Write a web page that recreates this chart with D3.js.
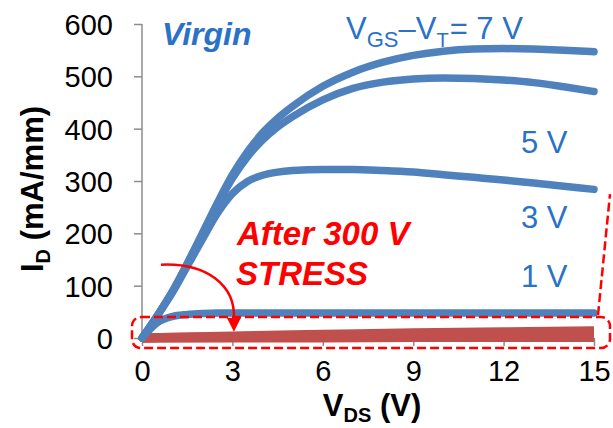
<!DOCTYPE html>
<html>
<head>
<meta charset="utf-8">
<script src="https://cdn.jsdelivr.net/npm/d3@7"></script>
<style>
  html, body { margin: 0; padding: 0; background: #fff; }
  svg { display: block; font-family: Arial, "Liberation Sans", sans-serif; }
</style>
</head>
<body>
<svg id="chart" width="613" height="428"></svg>
<script>
// Drain voltage sweep (V)
const vds = [0, 0.5, 1, 1.5, 2, 2.5, 3, 3.5, 4, 4.5, 5, 6, 7, 8, 9, 10, 11, 12, 13, 14, 15];

// Virgin output characteristics, I_D in mA/mm, one series per V_GS - V_T
const virgin7V = [0, 42, 88, 142, 200, 258, 312, 356, 392, 420, 443, 481, 508, 527, 540, 548, 552, 553, 552, 550, 547];
const virgin5V = [0, 42, 88, 142, 198, 254, 305, 346, 378, 403, 423, 455, 477, 489, 495, 497, 496, 493, 488, 480, 471];
const virgin3V = [0, 42, 86, 137, 188, 238, 276, 299, 311, 317, 320, 322, 322, 320, 317, 312, 307, 302, 296, 290, 284];
const virgin1V = [0, 29, 41, 45, 47, 48, 48, 48, 48, 48, 48, 48, 48, 48, 48, 48, 48, 48, 48, 48, 48];

// After 300 V stress: the currents collapse to a few mA/mm
const stressVds = [0, 3, 6, 9, 12, 15];
const stress7V = [0, 4, 7, 10, 12, 14];
const stress5V = [0, 3, 5, 7, 8, 9];
const stress3V = [0, 1, 2, 3, 4, 5];
const stress1V = [0, 0, 0, 1, 1, 1];

const xTicks = [0, 3, 6, 9, 12, 15];
const yTicks = [0, 100, 200, 300, 400, 500, 600];

const blue = "#4f81bd";
const blueText = "#2a72c8";
const red = "#ff0000";
const darkRed = "#c0504d";
const axisGray = "#8c8c8c";

const svg = d3.select("#chart");

const x = d3.scaleLinear().domain([0, 15]).range([142, 594]);
const y = d3.scaleLinear().domain([0, 600]).range([338, 24]);

// Axes
const yAxis = d3.axisLeft(y).tickValues(yTicks).tickSize(8).tickPadding(21);
const gy = svg.append("g").attr("transform", `translate(${x(0)},0)`).call(yAxis);
gy.select(".domain").attr("stroke", axisGray).attr("stroke-width", 1.5)
  .attr("d", `M0,${y(600)}V${y(0) + 4}`);
gy.selectAll(".tick line").attr("stroke", axisGray).attr("stroke-width", 1.5);
gy.selectAll(".tick text").attr("fill", "#000").style("font-size", "29px")
  .style("font-family", "Arial, 'Liberation Sans', sans-serif").attr("dy", "0.36em");

const xAxis = d3.axisBottom(x).tickValues(xTicks).tickSize(8).tickPadding(14);
const gx = svg.append("g").attr("transform", `translate(0,${y(0)})`).call(xAxis);
gx.select(".domain").attr("stroke", axisGray).attr("stroke-width", 1.5)
  .attr("d", `M${x(0)},0H${x(15)}`);
gx.selectAll(".tick line").attr("stroke", axisGray).attr("stroke-width", 1.5);
gx.selectAll(".tick text").attr("fill", "#000").style("font-size", "29px")
  .style("font-family", "Arial, 'Liberation Sans', sans-serif");

// Axis titles
const yTitle = svg.append("text")
  .attr("transform", `translate(43,${(y(0) + y(600)) / 2 + 8}) rotate(-90)`)
  .attr("text-anchor", "middle")
  .style("font-size", "31px").style("font-weight", "bold").attr("fill", "#000");
yTitle.append("tspan").text("I");
yTitle.append("tspan").attr("dy", 7).style("font-size", "20px").text("D");
yTitle.append("tspan").attr("dy", -7).text(" (mA/mm)");

const xTitle = svg.append("text")
  .attr("x", (x(0) + x(15)) / 2 + 4).attr("y", 416)
  .attr("text-anchor", "middle")
  .style("font-size", "31px").style("font-weight", "bold").attr("fill", "#000");
xTitle.append("tspan").text("V");
xTitle.append("tspan").attr("dy", 6).style("font-size", "20px").text("DS");
xTitle.append("tspan").attr("dy", -6).text(" (V)");

// Stressed curves, drawn as a bundle of thick red lines
const stressLine = d3.line().x((d, i) => x(stressVds[i])).y(d => y(d)).curve(d3.curveMonotoneX);
[stress1V, stress3V, stress5V, stress7V].forEach(s => {
  svg.append("path").datum(s).attr("d", stressLine)
    .attr("fill", "none").attr("stroke", darkRed).attr("stroke-width", 9)
    .attr("stroke-linecap", "butt");
});

// Virgin curves
const virginLine = d3.line().x((d, i) => x(vds[i])).y(d => y(d)).curve(d3.curveMonotoneX);
[virgin1V, virgin3V, virgin5V, virgin7V].forEach(s => {
  svg.append("path").datum(s).attr("d", virginLine)
    .attr("fill", "none").attr("stroke", blue).attr("stroke-width", 7.5)
    .attr("stroke-linecap", "round").attr("stroke-linejoin", "round");
});

// Dashed highlight box around the collapsed currents
svg.append("rect")
  .attr("x", x(0) - 10).attr("y", y(40)).attr("width", x(15) - x(0) + 26).attr("height", 31)
  .attr("rx", 9).attr("ry", 9)
  .attr("fill", "none").attr("stroke", red).attr("stroke-width", 2.5)
  .attr("stroke-dasharray", "9,4");

svg.append("line")
  .attr("x1", x(15) + 4).attr("y1", y(40) - 2)
  .attr("x2", x(15) + 16).attr("y2", y(275))
  .attr("stroke", red).attr("stroke-width", 2.5).attr("stroke-dasharray", "9,4");

// Curved arrow pointing from the virgin curves to the stressed ones
const arrowStart = [x(0.63), y(140)];
const arrowEnd = [x(3.05), y(16)];
svg.append("path")
  .attr("d", `M${arrowStart[0]},${arrowStart[1]} C${arrowStart[0] + 45},${arrowStart[1] - 2} ${arrowEnd[0] + 2},${arrowStart[1] + 20} ${arrowEnd[0]},${arrowEnd[1] - 10}`)
  .attr("fill", "none").attr("stroke", red).attr("stroke-width", 2.5);
svg.append("path")
  .attr("d", `M${arrowEnd[0] - 7},${arrowEnd[1] - 12} L${arrowEnd[0] + 7},${arrowEnd[1] - 12} L${arrowEnd[0]},${arrowEnd[1] + 2} Z`)
  .attr("fill", red);

// Annotations
svg.append("text").attr("x", 162).attr("y", 45)
  .style("font-size", "32px").style("font-weight", "bold").style("font-style", "italic")
  .attr("fill", blueText).text("Virgin");

const gsLabel = svg.append("text").attr("x", 346).attr("y", 39)
  .style("font-size", "31px").attr("fill", blueText);
gsLabel.append("tspan").text("V");
gsLabel.append("tspan").attr("dy", 8).style("font-size", "22px").text("GS");
gsLabel.append("tspan").attr("dy", -8).text("\u2013V");
gsLabel.append("tspan").attr("dy", 8).style("font-size", "20px").text("T");
gsLabel.append("tspan").attr("dy", -8).attr("dx", 1).text("= 7 V");

[["5 V", 153], ["3 V", 228], ["1 V", 287]].forEach(([t, yy]) => {
  svg.append("text").attr("x", 521).attr("y", yy)
    .style("font-size", "31px").attr("fill", blueText).text(t);
});

svg.append("text").attr("x", 237).attr("y", 245)
  .style("font-size", "33px").style("font-weight", "bold").style("font-style", "italic")
  .attr("fill", red).text("After 300 V");
svg.append("text").attr("x", 236).attr("y", 285)
  .style("font-size", "33px").style("font-weight", "bold").style("font-style", "italic")
  .attr("fill", red).text("STRESS");
</script>
</body>
</html>
